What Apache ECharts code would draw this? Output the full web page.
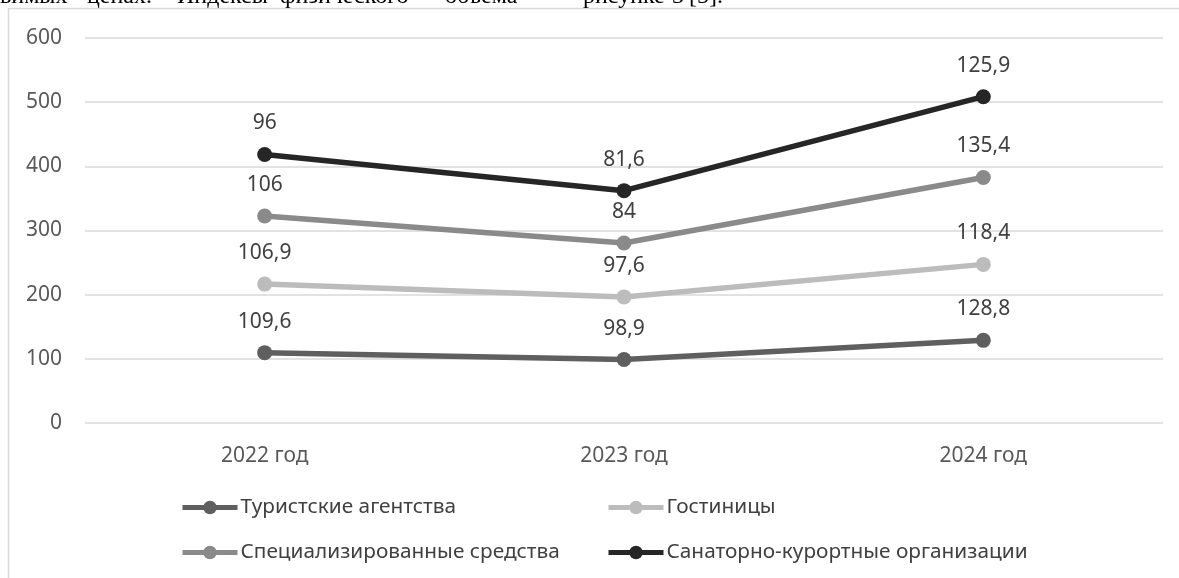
<!DOCTYPE html>
<html>
<head>
<meta charset="utf-8">
<script src="https://cdn.jsdelivr.net/npm/echarts@6/dist/echarts.min.js"></script>
<style>
html,body{margin:0;padding:0;background:#fff;}
#c{width:1179px;height:578px;}
</style>
</head>
<body>
<div id="c"></div>
<script>
const categories = ['2022 год', '2023 год', '2024 год'];
const seriesNames = ['Туристские агентства', 'Гостиницы', 'Специализированные средства', 'Санаторно-курортные организации'];
const agencies = [109.6, 98.9, 128.8];
const hotels = [106.9, 97.6, 118.4];
const specialized = [106, 84, 135.4];
const sanatoriums = [96, 81.6, 125.9];
const yTicks = [0, 100, 200, 300, 400, 500, 600];
const headerWords = ['вимых', 'ценах.', 'Индексы', 'физического', 'объема', '–', 'рисунке', '3', '[5].'];
const headerX = [0, 87, 177, 280, 445, 544, 583, 672, 689];

const colors = ['#5f5f5f', '#bcbcbc', '#8a8a8a', '#262626'];
const dataSets = [agencies, hotels, specialized, sanatoriums];
const FONT = 'Noto Sans';

const chart = echarts.init(document.getElementById('c'));

const series = dataSets.map((d, i) => ({
  name: seriesNames[i],
  type: 'line',
  stack: 'total',
  data: d,
  symbol: 'circle',
  symbolSize: 15,
  lineStyle: { width: 5.5, color: colors[i] },
  itemStyle: { color: colors[i] },
  label: {
    show: true,
    position: 'top',
    distance: 13,
    color: '#404040',
    fontFamily: FONT,
    fontSize: 21,
    formatter: p => String(p.value).replace('.', ',')
  },
  emphasis: { disabled: true },
  animation: false
}));

const legendPos = [
  { left: 180, top: 497 },
  { left: 606, top: 497 },
  { left: 180, top: 542 },
  { left: 606, top: 542 }
];
const legends = seriesNames.map((n, i) => ({
  data: [n],
  left: legendPos[i].left,
  top: legendPos[i].top,
  padding: 0,
  itemWidth: 55,
  itemHeight: 17,
  itemGap: 2,
  selectedMode: false,
  lineStyle: { width: 5, color: colors[i] },
  itemStyle: { color: colors[i] },
  textStyle: { fontFamily: FONT, fontSize: 20.8, color: '#404040', padding: [0, 0, 0, -2] }
}));

const headerGraphics = headerWords.map((w, i) => ({
  type: 'text',
  x: headerX[i],
  y: 9,
  style: {
    text: w,
    font: '24px "Liberation Serif"',
    fill: '#000',
    verticalAlign: 'bottom'
  },
  silent: true
}));

chart.setOption({
  animation: false,
  backgroundColor: '#fff',
  color: colors,
  grid: { left: 85, right: 16, top: 38, bottom: 155, containLabel: false },
  legend: legends,
  xAxis: {
    type: 'category',
    data: categories,
    axisLine: { show: false },
    axisTick: { show: false },
    axisLabel: { color: '#595959', fontFamily: FONT, fontSize: 21, margin: 23 }
  },
  yAxis: {
    type: 'value',
    min: yTicks[0],
    max: yTicks[yTicks.length - 1],
    interval: 100,
    axisLine: { show: false },
    axisTick: { show: false },
    axisLabel: { color: '#595959', fontFamily: FONT, fontSize: 21, margin: 23 },
    splitLine: { lineStyle: { color: '#d9d9d9', width: 1.5 } }
  },
  graphic: [
    {
      type: 'rect',
      shape: { x: 8.5, y: 8.5, width: 1400, height: 800 },
      style: { fill: 'none', stroke: '#d9d9d9', lineWidth: 1.5 },
      silent: true
    }
  ].concat(headerGraphics),
  series: series
});
</script>
</body>
</html>
